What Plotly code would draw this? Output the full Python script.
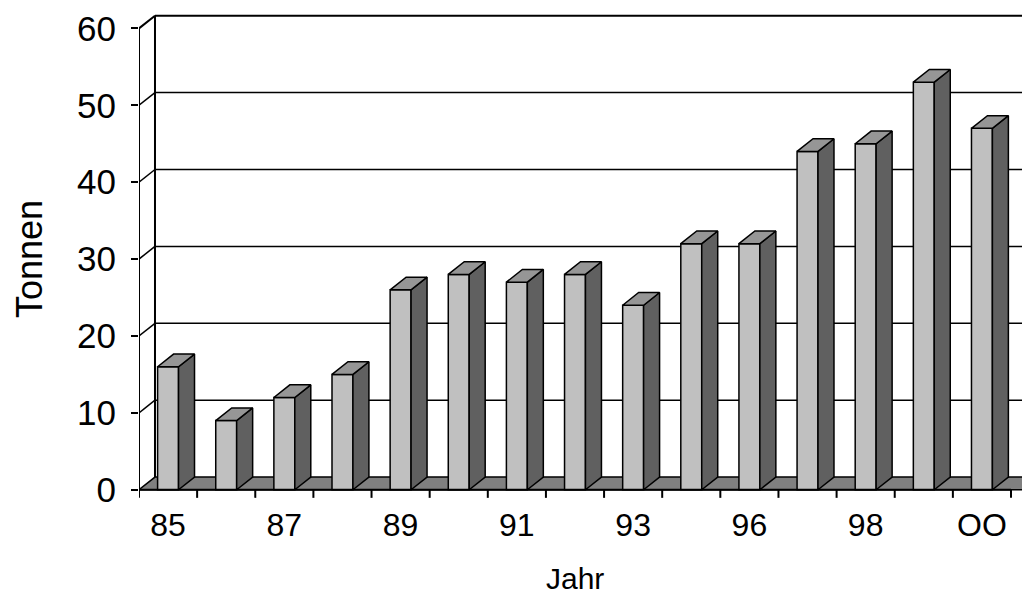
import plotly.graph_objects as go

# Annual tonnage, one bar per year
years = ["85", "86", "87", "88", "89", "90", "91", "92", "93", "95", "96", "97", "98", "99", "OO"]
tonnen = [16, 9, 12, 15, 26, 28, 27, 28, 24, 32, 32, 44, 45, 53, 47]
y_ticks = [0, 10, 20, 30, 40, 50, 60]

FONT = "Liberation Sans, Arial, sans-serif"
FRONT = "#c0c0c0"
SIDE = "#606060"
TOP = "#969696"
FLOOR = "#808080"

# pseudo-3D depth offsets in axis units
DX = 0.275
DY = 1.65
HALF = 0.18

n = len(years)
idx = list(range(n))
x_left, x_right = -0.5, n - 0.5
x_far = x_right + 2

fig = go.Figure()

# front faces of the columns
fig.add_trace(go.Bar(
    x=idx, y=tonnen, width=2 * HALF, base=0,
    marker=dict(color=FRONT, line=dict(color="black", width=1.5)),
    hoverinfo="skip", showlegend=False,
))

# side and top faces
sx, sy, tx, ty = [], [], [], []
for i, v in zip(idx, tonnen):
    x0, x1 = i - HALF, i + HALF
    sx += [x1, x1 + DX, x1 + DX, x1, x1, None]
    sy += [0, DY, v + DY, v, 0, None]
    tx += [x0, x0 + DX, x1 + DX, x1, x0, None]
    ty += [v, v + DY, v + DY, v, v, None]
fig.add_trace(go.Scatter(x=sx, y=sy, mode="lines", fill="toself", fillcolor=SIDE,
                         line=dict(color="black", width=1.5), hoverinfo="skip", showlegend=False))
fig.add_trace(go.Scatter(x=tx, y=ty, mode="lines", fill="toself", fillcolor=TOP,
                         line=dict(color="black", width=1.5), hoverinfo="skip", showlegend=False))

# tick marks at the category boundaries under the floor edge
bx, by = [], []
for k in range(n + 1):
    b = x_left + k
    bx += [b, b, None]
    by += [0, -1.05, None]
fig.add_trace(go.Scatter(x=bx, y=by, mode="lines", line=dict(color="black", width=2),
                         hoverinfo="skip", showlegend=False))

shapes = []
# back wall gridlines and left wall connectors
for v in y_ticks[1:]:
    w = 1.5 if v < y_ticks[-1] else 2
    shapes.append(dict(type="line", xref="x", yref="y", layer="below",
                       x0=x_left + DX, y0=v + DY, x1=x_far, y1=v + DY,
                       line=dict(color="black", width=w)))
    shapes.append(dict(type="line", xref="x", yref="y", layer="below",
                       x0=x_left, y0=v, x1=x_left + DX, y1=v + DY,
                       line=dict(color="black", width=w)))
# back edge of the left wall
shapes.append(dict(type="line", xref="x", yref="y", layer="below",
                   x0=x_left + DX, y0=DY, x1=x_left + DX, y1=y_ticks[-1] + DY,
                   line=dict(color="black", width=2)))
# floor
shapes.append(dict(type="path", xref="x", yref="y", layer="below",
                   path=f"M {x_left},0 L {x_far},0 L {x_far + DX},{DY} L {x_left + DX},{DY} Z",
                   fillcolor=FLOOR, line=dict(color="black", width=1.5)))
# front axes
shapes.append(dict(type="line", xref="x", yref="y", layer="above",
                   x0=x_left, y0=0, x1=x_left, y1=y_ticks[-1], line=dict(color="black", width=2)))
shapes.append(dict(type="line", xref="x", yref="y", layer="above",
                   x0=x_left, y0=0, x1=x_right, y1=0, line=dict(color="black", width=2)))

ML, MR, MT, MB = 139, 0, 13, 95
W, H = 1022, 594
pw, ph = W - ML - MR, H - MT - MB


def paper_x(px):
    return (px - ML) / pw


def paper_y(py):
    return (H - MB - py) / ph


fig.update_layout(
    width=W, height=H,
    margin=dict(l=ML, r=MR, t=MT, b=MB),
    paper_bgcolor="white", plot_bgcolor="white",
    font=dict(family=FONT, color="black"),
    shapes=shapes,
    xaxis=dict(range=[x_left, n - 0.5 + 11 / 58.13], showgrid=False, zeroline=False, showline=False,
               tickmode="array", tickvals=idx[::2], ticktext=years[::2],
               ticks="", tickfont=dict(size=32, family=FONT), ticklabelstandoff=4),
    yaxis=dict(range=[-1.2, 62], showgrid=False, zeroline=False, showline=False,
               tickmode="array", tickvals=y_ticks, ticks="outside", ticklen=7, tickwidth=2,
               tickcolor="black", tickfont=dict(size=35, family=FONT), ticklabelstandoff=8),
    annotations=[
        dict(text="Tonnen", textangle=-90, x=paper_x(29), y=paper_y(259), xref="paper", yref="paper",
             xanchor="center", yanchor="middle", showarrow=False, font=dict(size=36, family=FONT)),
        dict(text="Jahr", x=paper_x(575), y=paper_y(578), xref="paper", yref="paper",
             xanchor="center", yanchor="middle", showarrow=False, font=dict(size=30, family=FONT)),
    ],
    showlegend=False,
)

fig.write_html("out.html")
